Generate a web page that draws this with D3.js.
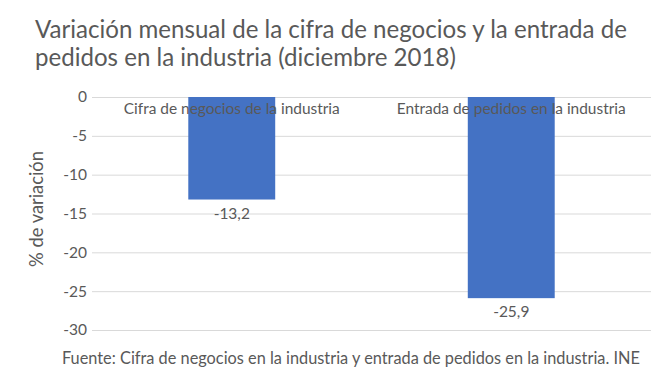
<!DOCTYPE html>
<html><head><meta charset="utf-8">
<script src="https://cdn.jsdelivr.net/npm/d3@7"></script>
<style>html,body{margin:0;padding:0;background:#fff;}svg{display:block;}</style>
</head><body>
<svg id="chart" width="660" height="384"></svg>
<script>
const categories = ["Cifra de negocios de la industria", "Entrada de pedidos en la industria"];
const values = [-13.2, -25.9];
const yTicks = [0, -5, -10, -15, -20, -25, -30];
const titleLines = ["Variación mensual de la cifra de negocios y la entrada de", "pedidos en la industria (diciembre 2018)"];
const yTitle = "% de variación";
const source = "Fuente: Cifra de negocios en la industria y entrada de pedidos en la industria. INE";

const FONT = "Lato, 'Open Sans', sans-serif";
const TXT = "#595959";
const svg = d3.select("#chart");
svg.append("rect").attr("width",660).attr("height",384).attr("fill","#fff");

const x = d3.scaleBand().domain(categories).range([92, 651]).padding(0);
const y = d3.scaleLinear().domain([-30, 0]).range([330, 97]);
const barFrac = 0.311;

function fit(sel, target){
  const n = sel.node();
  const fs = parseFloat(sel.attr("font-size"));
  const w = n.getComputedTextLength();
  sel.attr("font-size", (fs*target/w).toFixed(2));
}

// grid + y axis
const yAxis = d3.axisLeft(y).tickValues(yTicks).tickSize(-(651-92))
  .tickFormat(d => d === 0 ? "0" : "-" + Math.abs(d));
const ga = svg.append("g").attr("transform","translate(92,0)").call(yAxis);
ga.select(".domain").remove();
ga.selectAll(".tick line").attr("stroke","#d9d9d9").attr("stroke-width",1);
ga.selectAll(".tick text").attr("x",-5).attr("fill",TXT).attr("font-family",FONT).attr("font-size",15.5);

// bars
svg.append("g").selectAll("rect").data(values).join("rect")
  .attr("x",(d,i)=>x(categories[i]) + x.bandwidth()*(1-barFrac)/2)
  .attr("width", x.bandwidth()*barFrac)
  .attr("y", d=>y(0))
  .attr("height", d=>y(d)-y(0))
  .attr("fill","#4472c4");

// category labels
svg.append("g").selectAll("text").data(categories).join("text")
  .attr("x", d=>x(d)+x.bandwidth()/2).attr("y",114)
  .attr("text-anchor","middle").attr("fill",TXT).attr("font-family",FONT).attr("font-size",15)
  .text(d=>d)
  .each(function(d,i){ fit(d3.select(this), [216,229][i]); });

// value labels
svg.append("g").selectAll("text").data(values).join("text")
  .attr("x",(d,i)=>x(categories[i])+x.bandwidth()/2).attr("y",d=>y(d)+19)
  .attr("text-anchor","middle").attr("fill",TXT).attr("font-family",FONT).attr("font-size",15.5)
  .text(d=>"-" + Math.abs(d).toFixed(1).replace(".", ","));

// title
svg.append("g").selectAll("text").data(titleLines).join("text")
  .attr("x",35).attr("y",(d,i)=>38+i*28)
  .attr("fill",TXT).attr("font-family",FONT).attr("font-size",22)
  .text(d=>d)
  .each(function(d,i){ if(i===0) fit(d3.select(this), 592); });
const fs0 = svg.selectAll("g text").filter(d=>d===titleLines[0]).attr("font-size");
svg.selectAll("g text").filter(d=>d===titleLines[1]).attr("font-size", fs0);

// y title
const yt = svg.append("text").attr("transform","translate(43,209) rotate(-90)")
  .attr("text-anchor","middle").attr("fill",TXT).attr("font-family",FONT).attr("font-size",15)
  .text(yTitle);
fit(yt, 116);

// source
const src = svg.append("text").attr("x",62).attr("y",364)
  .attr("fill",TXT).attr("font-family",FONT).attr("font-size",15).text(source);
fit(src, 578);
</script>
</body></html>
